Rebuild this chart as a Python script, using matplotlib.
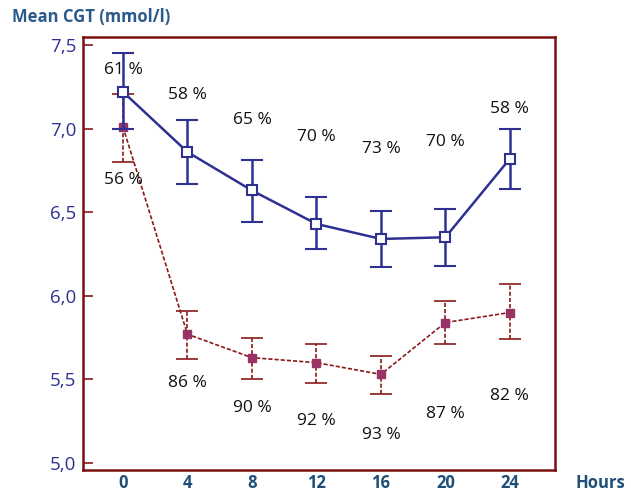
import matplotlib
matplotlib.use("Agg")
import matplotlib.pyplot as plt

hours = [0, 4, 8, 12, 16, 20, 24]
blue_mean = [7.22, 6.86, 6.63, 6.43, 6.34, 6.35, 6.82]
blue_hi = [7.45, 7.05, 6.81, 6.59, 6.51, 6.52, 7.00]
blue_lo = [7.00, 6.67, 6.44, 6.28, 6.17, 6.18, 6.64]
red_mean = [7.01, 5.77, 5.63, 5.60, 5.53, 5.84, 5.90]
red_hi = [7.21, 5.91, 5.75, 5.71, 5.64, 5.97, 6.07]
red_lo = [6.80, 5.62, 5.50, 5.48, 5.41, 5.71, 5.74]
blue_pct = ["61 %", "58 %", "65 %", "70 %", "73 %", "70 %", "58 %"]
blue_pct_y = [7.35, 7.20, 7.05, 6.95, 6.88, 6.92, 7.12]
red_pct = ["56 %", "86 %", "90 %", "92 %", "93 %", "87 %", "82 %"]
red_pct_y = [6.69, 5.48, 5.33, 5.25, 5.17, 5.29, 5.40]
yticks = [5.0, 5.5, 6.0, 6.5, 7.0, 7.5]
ytick_labels = ["5,0", "5,5", "6,0", "6,5", "7,0", "7,5"]

plt.rcParams['font.family'] = ['Open Sans', 'DejaVu Sans']
fig = plt.figure(figsize=(6.31, 4.93), dpi=100)
ax = fig.add_axes([83/631, 1-470/493, (555-83)/631, (470-37)/493])

BLUE = "#2e3192"
RED = "#8b1a1a"
MAG = "#993366"

b_err = [[m - l for m, l in zip(blue_mean, blue_lo)], [h - m for m, h in zip(blue_mean, blue_hi)]]
r_err = [[m - l for m, l in zip(red_mean, red_lo)], [h - m for m, h in zip(red_mean, red_hi)]]

dash = (0, (2.5, 1.2))
eb = ax.errorbar(hours, red_mean, yerr=r_err, color=RED, linestyle=dash, lw=1.2,
                 capsize=8, elinewidth=1.2, capthick=1.2, zorder=2,
                 marker='s', markersize=6, markerfacecolor=MAG, markeredgecolor=MAG)
for c in eb[2]:
    c.set_linestyle(dash)
ax.errorbar(hours, blue_mean, yerr=b_err, color=BLUE, lw=1.8, capsize=8,
            elinewidth=1.8, capthick=1.8, zorder=3,
            marker='s', markersize=7, markerfacecolor='white', markeredgecolor=BLUE,
            markeredgewidth=1.5)

for x, y, t in zip(hours, blue_pct_y, blue_pct):
    ax.text(x, y, t, ha='center', va='center', fontsize=12.5, color='#111111', zorder=5)
for x, y, t in zip(hours, red_pct_y, red_pct):
    ax.text(x, y, t, ha='center', va='center', fontsize=12.5, color='#111111', zorder=5)

ax.set_xlim(-2.48, 26.8)
ax.set_ylim(4.958, 7.548)
ax.set_yticks(yticks)
ax.set_yticklabels(ytick_labels, color=BLUE, fontsize=13.5)
ax.set_xticks(hours)
ax.set_xticklabels([str(h) for h in hours], color="#1f4e79", fontsize=12, fontweight='bold')
ax.tick_params(axis='y', direction='in', length=7, color=RED, width=1.2, pad=5)
ax.tick_params(axis='x', length=0, pad=3)
for s in ax.spines.values():
    s.set_color("#7b1010")
    s.set_linewidth(1.8)

fig.text(12/631, 1-17/493, "Mean CGT (mmol/l)", color="#2a5a8a", fontsize=12,
         fontweight='bold', ha='left', va='center')
fig.text(600/631, 1-483/493, "Hours", color="#1f4e79", fontsize=12,
         fontweight='bold', ha='center', va='center')

fig.savefig("out.png", dpi=100)
